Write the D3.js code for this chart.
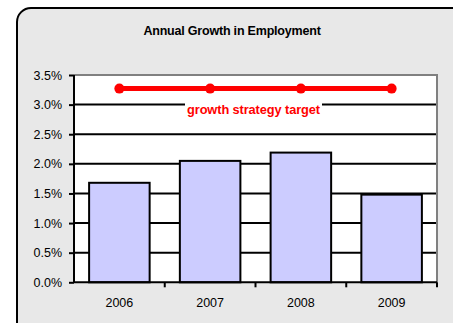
<!DOCTYPE html>
<html><head><meta charset="utf-8">
<script src="https://cdn.jsdelivr.net/npm/d3@7"></script>
<style>body{margin:0;background:#fff;}svg{display:block;font-family:"Liberation Sans",Arial,sans-serif;}</style>
</head><body>
<script>
const title = "Annual Growth in Employment";
const categories = ["2006","2007","2008","2009"];
const growth = [1.68, 2.05, 2.19, 1.48];
const target = [3.27, 3.27, 3.27, 3.27];
const targetLabel = "growth strategy target";
const yTicks = [0, 0.5, 1.0, 1.5, 2.0, 2.5, 3.0, 3.5];

const W = 453, H = 323;
const svg = d3.select("body").append("svg").attr("width", W).attr("height", H);

svg.append("rect").attr("x", 17).attr("y", 8).attr("width", 450).attr("height", 330)
  .attr("rx", 14).attr("fill", "#e8e8e8").attr("stroke", "#000").attr("stroke-width", 2);

svg.append("text").attr("x", 232).attr("y", 35).attr("text-anchor", "middle")
  .attr("font-size", 12.5).attr("font-weight", "bold").attr("letter-spacing", -0.2).attr("fill", "#000").text(title);

const L = 74, R = 437, T = 75, B = 282.3;
const x = d3.scaleBand().domain(categories).range([L, R]).paddingInner(0.333).paddingOuter(0.1665);
const y = d3.scaleLinear().domain([0, 3.5]).range([B, T]);

svg.append("rect").attr("x", L).attr("y", T).attr("width", R - L).attr("height", B - T).attr("fill", "#fff");

// gridlines
svg.append("g").selectAll("line").data(yTicks.filter(d => d > 0 && d < 3.5)).join("line")
  .attr("x1", L).attr("x2", R).attr("y1", d => y(d)).attr("y2", d => y(d))
  .attr("stroke", "#000").attr("stroke-width", 2);

// plot border top/right gray
svg.append("path").attr("d", `M${L},${T}H${R}V${B}`).attr("fill", "none")
  .attr("stroke", "#808080").attr("stroke-width", 2);

// bars
svg.append("g").selectAll("rect").data(growth).join("rect")
  .attr("x", (d, i) => x(categories[i])).attr("width", x.bandwidth())
  .attr("y", d => y(d)).attr("height", d => B - y(d))
  .attr("fill", "#ccccff").attr("stroke", "#000").attr("stroke-width", 2);

// y axis
const yAxis = d3.axisLeft(y).tickValues(yTicks).tickFormat(d => d.toFixed(1) + "%").tickSize(5).tickPadding(7);
const gy = svg.append("g").attr("transform", `translate(${L},0)`).call(yAxis);
gy.select(".domain").attr("stroke", "#000").attr("stroke-width", 2).attr("d", `M0,${T}V${B}`);
gy.selectAll(".tick line").attr("stroke", "#000").attr("stroke-width", 2);
gy.selectAll(".tick text").attr("font-size", 12.5).attr("fill", "#000").attr("font-family", "Liberation Sans, Arial, sans-serif");

// x axis
const xAxis = d3.axisBottom(x).tickSize(0).tickPadding(16);
const gx = svg.append("g").attr("transform", `translate(0,${B})`).call(xAxis);
gx.select(".domain").attr("stroke", "#000").attr("stroke-width", 2).attr("d", `M${L},0H${R}`);
gx.selectAll(".tick text").attr("font-size", 12.5).attr("fill", "#000").attr("font-family", "Liberation Sans, Arial, sans-serif");
svg.append("g").selectAll("line").data(d3.range(1, categories.length + 1)).join("line")
  .attr("x1", i => L + i * (R - L) / categories.length).attr("x2", i => L + i * (R - L) / categories.length)
  .attr("y1", B).attr("y2", B + 5).attr("stroke", "#000").attr("stroke-width", 2);

// target line
const cx = c => x(c) + x.bandwidth() / 2;
svg.append("path").datum(target)
  .attr("d", d3.line().x((d, i) => cx(categories[i])).y(d => y(d)))
  .attr("fill", "none").attr("stroke", "#ff0000").attr("stroke-width", 5);
svg.append("g").selectAll("circle").data(target).join("circle")
  .attr("cx", (d, i) => cx(categories[i])).attr("cy", d => y(d)).attr("r", 5).attr("fill", "#ff0000");

// label with white background
const lx = 253.5, ly = 114;
svg.append("rect").attr("x", 185).attr("y", y(3.0) - 3).attr("width", 137).attr("height", 16).attr("fill", "#fff");
svg.append("text").attr("x", lx).attr("y", ly).attr("text-anchor", "middle")
  .attr("font-size", 12.8).attr("font-weight", "bold").attr("letter-spacing", -0.1).attr("fill", "#ff0000").text(targetLabel);
</script>
</body></html>
